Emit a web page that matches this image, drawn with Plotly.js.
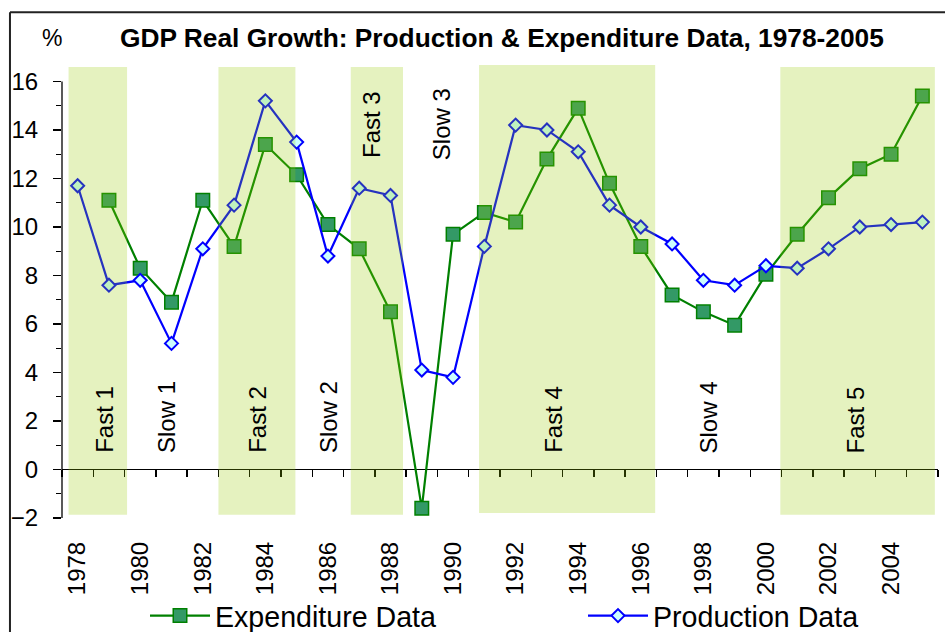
<!DOCTYPE html>
<html><head><meta charset="utf-8">
<script src="https://cdn.plot.ly/plotly-3.0.1.min.js"></script>
<style>html,body{margin:0;padding:0;background:#fff}#chart{width:945px;height:632px}</style>
</head><body><div id="chart"></div>
<script>
// ---- data ----
const years = [1978,1979,1980,1981,1982,1983,1984,1985,1986,1987,1988,1989,1990,1991,1992,1993,1994,1995,1996,1997,1998,1999,2000,2001,2002,2003,2004,2005];
const expenditure = [null,11.1,8.3,6.9,11.1,9.2,13.4,12.15,10.1,9.1,6.5,-1.6,9.7,10.6,10.2,12.8,14.9,11.8,9.2,7.2,6.5,5.95,8.05,9.7,11.2,12.4,13.0,15.4];
const production = [11.7,7.6,7.8,5.2,9.1,10.9,15.2,13.5,8.8,11.6,11.3,4.1,3.8,9.2,14.2,14.0,13.1,10.9,10.0,9.3,7.8,7.6,8.4,8.3,9.1,10.0,10.1,10.2];
const tickYears = [1978,1980,1982,1984,1986,1988,1990,1992,1994,1996,1998,2000,2002,2004];
const tickLabels = ['1978','1980','1982','1984','1986','1988','1990','1992','1994','1996','1998','2000','2002','2004'];
const fastStart = [1977.71,1982.5,1986.73,1990.83,2000.46];
const fastEnd = [1979.58,1984.96,1988.4,1996.46,2005.4];
const phaseNames = ['Fast 1','Slow 1','Fast 2','Slow 2','Fast 3','Slow 3','Fast 4','Slow 4','Fast 5'];
const seriesNames = ['Expenditure Data','Production Data'];
const titleText = 'GDP Real Growth: Production & Expenditure Data, 1978-2005';

// ---- layout helpers (positions / styles) ----
const phaseX = [1978.88,1980.82,1983.77,1986.0,1987.37,1989.61,1993.23,1998.16,2002.87];
const phaseY = [0.59,0.59,0.59,0.59,15.7,15.8,0.59,0.59,0.59];
const phaseAnchor = ['bottom','bottom','bottom','bottom','top','top','bottom','bottom','bottom'];
const bandTop = [16.6,16.6,16.6,16.68,16.6];
const bandBottom = [-1.87,-1.87,-1.87,-1.79,-1.87];
const yMin = -2, yMax = 16.72;
const FONT = 'Arial, "Liberation Sans", sans-serif';

const traces = [
  {x: years, y: expenditure, name: seriesNames[0], type: 'scatter', mode: 'lines+markers',
   legend: 'legend',
   line: {color: '#008000', width: 2.2},
   marker: {symbol: 'square', size: 13.5, color: '#339966', line: {color: '#008000', width: 1.5}},
   hoverinfo: 'x+y'},
  {x: years, y: production, name: seriesNames[1], type: 'scatter', mode: 'lines+markers',
   legend: 'legend2',
   line: {color: '#0000FF', width: 2.2},
   marker: {symbol: 'diamond', size: 10, color: '#CCFFFF', line: {color: '#0000FF', width: 2}},
   hoverinfo: 'x+y'},
  {x: years, y: production, xaxis: 'x2', yaxis: 'y', mode: 'none', type: 'scatter',
   showlegend: false, hoverinfo: 'skip'}
];

const shapes = [];
for (let i = 0; i < fastStart.length; i++) {
  shapes.push({type: 'rect', xref: 'x', yref: 'y', x0: fastStart[i], x1: fastEnd[i],
    y0: bandBottom[i], y1: bandTop[i], fillcolor: 'rgba(153,204,0,0.25)',
    line: {width: 0}, layer: 'above'});
}
// y axis line from -2 to 16
shapes.push({type: 'line', xref: 'paper', yref: 'y', x0: 0, x1: 0, y0: -2, y1: 16,
  line: {color: '#000', width: 1.3}, layer: 'below'});
// chart frame (top & left)
shapes.push({type: 'line', xref: 'paper', yref: 'paper', x0: -0.0594, x1: 1.2, y0: 1.114, y1: 1.114,
  line: {color: '#222', width: 2}});
shapes.push({type: 'line', xref: 'paper', yref: 'paper', x0: -0.0594, x1: -0.0594, y0: 1.114, y1: -0.4,
  line: {color: '#222', width: 2}});

const annotations = phaseNames.map((t, i) => ({
  text: t, x: phaseX[i], y: phaseY[i],
  xref: 'x', yref: 'y', textangle: -90, showarrow: false,
  xanchor: 'center', yanchor: phaseAnchor[i],
  font: {family: FONT, size: 24, color: '#000'}
}));
annotations.push({text: '%', xref: 'paper', yref: 'paper', x: -0.0114, y: 1.057,
  xanchor: 'center', yanchor: 'middle', showarrow: false,
  font: {family: FONT, size: 23, color: '#000'}});

const legendBase = {orientation: 'h', xanchor: 'left', yanchor: 'middle', y: (518 - 616) / 454,
  font: {family: FONT, size: 28.6, color: '#000'}, bgcolor: 'rgba(0,0,0,0)', itemwidth: 60};

const layout = {
  width: 945, height: 632,
  margin: {l: 62, r: 7, t: 64, b: 114, pad: 0, autoexpand: false},
  paper_bgcolor: '#fff', plot_bgcolor: '#fff',
  font: {family: FONT, color: '#000'},
  title: {text: '<b>' + titleText + '</b>', xref: 'container', yref: 'container',
    x: 120 / 945, xanchor: 'left', y: 1 - 38 / 632, yanchor: 'middle',
    font: {family: FONT, size: 26.3, color: '#000'}},
  xaxis: {range: [1977.5, 2005.5], tickmode: 'array', tickvals: tickYears, ticktext: tickLabels,
    tickangle: -90, ticks: '', showgrid: false, zeroline: false, showline: false,
    ticklabelstandoff: 18, tickfont: {family: FONT, size: 24, color: '#000'}},
  xaxis2: {range: [1977.5, 2005.5], overlaying: 'x', anchor: 'free', position: (0 - yMin) / (yMax - yMin),
    side: 'bottom', tickmode: 'linear', tick0: 1978.5, dtick: 1, ticks: 'outside', ticklen: 7,
    tickcolor: '#000', tickwidth: 1.3, showticklabels: false, showgrid: false, zeroline: false, showline: false},
  yaxis: {range: [yMin, yMax], tick0: 0, dtick: 2, ticks: 'outside', ticklen: 8, tickwidth: 1.3,
    tickcolor: '#000', showgrid: false, showline: false, zeroline: true, zerolinecolor: '#000',
    zerolinewidth: 1.5, ticklabelstandoff: 10, tickfont: {family: FONT, size: 24, color: '#000'},
    minor: {tick0: 0, dtick: 1, ticks: 'outside', ticklen: 5, tickcolor: '#000', tickwidth: 1.3, showgrid: false}},
  legend: Object.assign({}, legendBase, {x: (145 - 62) / 876}),
  legend2: Object.assign({}, legendBase, {x: (583 - 62) / 876}),
  shapes: shapes,
  annotations: annotations,
  showlegend: true
};

Plotly.newPlot('chart', traces, layout, {displayModeBar: false, staticPlot: true});
</script></body></html>
